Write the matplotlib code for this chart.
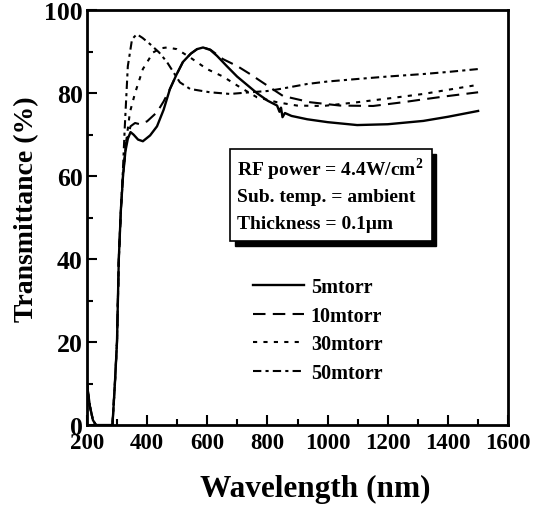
import matplotlib
matplotlib.use("Agg")
import matplotlib.pyplot as plt
from matplotlib.patches import Rectangle
from matplotlib.ticker import MultipleLocator

plt.rcParams['font.family'] = ['Liberation Serif', 'DejaVu Serif']
plt.rcParams['font.weight'] = 'bold'
plt.rcParams['mathtext.fontset'] = 'custom'
plt.rcParams['mathtext.rm'] = 'Liberation Serif:bold'
plt.rcParams['mathtext.bf'] = 'Liberation Serif:bold'

# 5 mtorr (solid)
wl_5 = [200, 210, 220, 230, 250, 270, 285, 293, 300, 306, 313, 320, 328, 336, 345,
        355, 370, 386, 410, 433, 455, 476, 498, 519, 545, 566, 586, 610, 632, 665,
        699, 732, 765, 800, 832, 840, 845, 850, 858, 880, 932, 1000, 1098, 1200,
        1318, 1400, 1500]
t_5 = [10, 4.5, 1.2, 0, 0, 0, 0, 10, 20, 40, 52, 60, 66, 69, 70.6,
       70, 68.8, 68.4, 69.8, 72, 76, 81, 84.5, 87.5, 89.5, 90.6, 91, 90.4, 89, 86.5,
       84, 82, 80, 78.2, 77, 75.5, 76.5, 74.2, 75.2, 74.5, 73.7, 73, 72.3, 72.5,
       73.3, 74.3, 75.7]

# 10 mtorr (dashed)
wl_10 = [200, 210, 220, 230, 250, 270, 285, 293, 300, 306, 313, 320, 330, 345, 360,
         376, 400, 433, 455, 476, 498, 519, 545, 566, 586, 610, 652, 700, 742, 808,
         852, 900, 942, 1041, 1151, 1250, 1318, 1400, 1500]
t_10 = [10, 4.5, 1.2, 0, 0, 0, 0, 10, 20, 40, 52, 60, 68, 72, 72.8,
        72.5, 73.2, 75.4, 78, 81, 84.5, 87.5, 89.5, 90.6, 91, 90.5, 88.2, 86.5, 84.6, 81.4,
        79.3, 78.5, 77.8, 77, 76.9, 77.8, 78.5, 79.3, 80.2]

# 30 mtorr (dotted)
wl_30 = [200, 210, 220, 230, 250, 270, 285, 293, 300, 306, 313, 320, 330, 343, 360,
         386, 420, 445, 466, 499, 543, 599, 652, 709, 765, 832, 898, 985, 1098, 1200,
         1318, 1400, 1500]
t_30 = [10, 4.5, 1.2, 0, 0, 0, 0, 10, 20, 40, 52, 60, 68, 75.4, 80,
        85.8, 89.8, 90.8, 91, 90.6, 88.6, 85.8, 84, 81.4, 79, 77.8, 77, 76.9, 77.8, 78.7,
        79.8, 80.8, 82]

# 50 mtorr (dash-dot)
wl_50 = [200, 210, 220, 230, 250, 270, 285, 293, 300, 306, 313, 320, 326, 336, 350,
         366, 385, 410, 440, 466, 509, 543, 609, 676, 742, 799, 842, 932, 1000, 1098,
         1200, 1318, 1400, 1500]
t_50 = [10, 4.5, 1.2, 0, 0, 0, 0, 10, 20, 40, 52, 62, 72, 86.5, 93,
        94.2, 93.3, 91.8, 89.8, 87.5, 82.6, 81, 80.2, 79.8, 80.2, 80.5, 81, 82.2, 82.8, 83.4,
        84, 84.6, 85.1, 85.8]

labels = ['5mtorr', '10mtorr', '30mtorr', '50mtorr']
box_lines = ['RF power = 4.4W/cm$^{2}$', 'Sub. temp. = ambient', 'Thickness = 0.1\u03bcm']

fig = plt.figure(figsize=(5.5, 5.06), dpi=100)
ax = fig.add_axes([0.158, 0.158, 0.766, 0.820])

ax.plot(wl_5, t_5, color='black', lw=1.7, ls='-', label=labels[0])
ax.plot(wl_10, t_10, color='black', lw=1.5, ls=(0, (6, 3.5)), label=labels[1])
ax.plot(wl_30, t_30, color='black', lw=1.5, ls=(0, (2, 3)), label=labels[2])
ax.plot(wl_50, t_50, color='black', lw=1.5, ls=(0, (4, 2, 1.5, 2)), label=labels[3])

ax.set_xlim(200, 1600)
ax.set_ylim(0, 100)
ax.xaxis.set_major_locator(MultipleLocator(200))
ax.xaxis.set_minor_locator(MultipleLocator(100))
ax.yaxis.set_major_locator(MultipleLocator(20))
ax.yaxis.set_minor_locator(MultipleLocator(10))
ax.tick_params(which='both', direction='in', width=1.5)
ax.tick_params(which='major', length=7)
ax.tick_params(which='minor', length=4)
ax.tick_params(axis='x', pad=5, labelsize=16.5)
ax.tick_params(axis='y', pad=3, labelsize=18.5)
for s in ax.spines.values():
    s.set_linewidth(2)

ax.set_xlabel('Wavelength (nm)', fontsize=22.5, fontweight='bold', va='center')
ax.xaxis.set_label_coords(0.542, -0.154)
ax.set_ylabel('Transmittance (%)', fontsize=20, fontweight='bold', va='center')
ax.yaxis.set_label_coords(-0.143, 0.523)

# info box with drop shadow
bx, by, bw, bh = 0.340, 0.443, 0.478, 0.222
ax.add_patch(Rectangle((bx + 0.011, by - 0.012), bw, bh, transform=ax.transAxes,
                       facecolor='black', edgecolor='black', zorder=4))
ax.add_patch(Rectangle((bx, by), bw, bh, transform=ax.transAxes,
                       facecolor='white', edgecolor='black', lw=1.2, zorder=5))
for i, line in enumerate(box_lines):
    ax.text(bx + 0.016, 0.617 - i * 0.066, line, transform=ax.transAxes,
            fontsize=14, fontweight='bold', va='center', ha='left', zorder=6)

ax.legend(loc='upper left', bbox_to_anchor=(0.352, 0.40), frameon=False,
          handlelength=2.5, labelspacing=0.42, handletextpad=0.35,
          prop={'size': 14.5, 'weight': 'bold'})

fig.savefig('out.png', dpi=100)
